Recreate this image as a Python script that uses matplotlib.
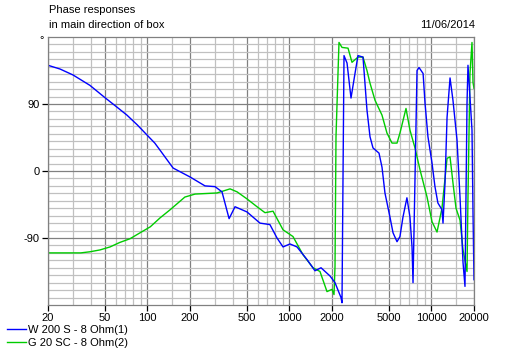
import numpy as np
import matplotlib
matplotlib.use("Agg")
import matplotlib.pyplot as plt
from matplotlib.ticker import NullFormatter

plt.rcParams['font.family'] = ['Liberation Sans', 'DejaVu Sans']

# W 200 S - 8 Ohm(1): frequency (Hz), phase (deg)
freq_w = [20, 24.3, 30, 39.5, 50, 61, 72, 85, 100, 113, 123, 152, 200, 255, 300, 336,
          377, 415, 504, 622, 731, 820, 904, 1012, 1134, 1334, 1518, 1674, 1936, 2100,
          2314, 2352, 2365, 2390, 2430, 2552, 2722, 2904, 3048, 3306, 3526, 3704, 3888,
          4286, 4500, 4720, 5120, 5380, 5740, 6020, 6320, 6740, 7080, 7320, 7440, 7680,
          7940, 8200, 8760, 9040, 9480, 10120, 10620, 11140, 11900, 12100, 12500, 12920,
          13560, 14220, 15180, 15940, 16740, 17280, 17860, 18140, 18740, 19360, 19680, 20000]
phase_w = [142, 137, 129, 115, 99, 86, 75, 62, 48, 37.5, 28, 4, -8, -20, -21, -28,
           -64, -48, -55, -70, -72, -90, -102, -98, -102, -119, -134, -130, -141, -150,
           -170, -177, -120, -12, 155, 145, 98, 131, 155, 153, 82, 46, 31,
           24, 5, -29.5, -62, -83, -95, -88, -62, -36, -62, -102, -150, -12,
           135, 139, 131, 91, 46, 11, -21, -43, -52, -70, -16, 72,
           125, 95, 42, -35, -123, -155, 91, 142, 99, 55, -56, -146]

# G 20 SC - 8 Ohm(2)
freq_g = [20, 34, 39.5, 46.5, 54.7, 64, 75.6, 89, 105, 123, 145, 184, 217, 310, 383,
          429, 504, 593, 675, 769, 904, 1062, 1250, 1470, 1646, 1844, 2000, 2066, 2100,
          2134, 2204, 2240, 2352, 2594, 2766, 3048, 3306, 3526, 3704, 4018, 4500, 4876,
          5292, 5740, 6020, 6640, 7080, 7680, 8340, 9340, 10120, 10980, 11900, 12920,
          13560, 14220, 14940, 15940, 16740, 17860, 18140, 18740, 19360, 19680, 20000]
phase_g = [-110, -110, -108.5, -106, -102, -96, -91, -83, -75, -63, -52, -35, -31, -29.5, -24,
           -28, -37.5, -48, -56, -54, -79, -88, -112.5, -130, -135, -162, -159, -166, -128.5,
           46, 131, 172.7, 166, 165, 146, 153, 153, 135, 118, 95, 75, 51,
           37.5, 37.5, 51, 84, 55, 31, 1.3, -35, -68, -82, -50, 17,
           19, -16, -50, -66, -106, -135, -35, 131, 172.7, 119, 111]

x_major = [20, 50, 100, 200, 500, 1000, 2000, 5000, 10000, 20000]
x_minor = [30, 40, 60, 70, 80, 90, 150, 300, 400, 600, 700, 800, 900, 1500,
           3000, 4000, 6000, 7000, 8000, 9000, 15000]
y_major = [-90, 0, 90]

W, H = 517, 359
fig = plt.figure(figsize=(W / 100, H / 100), dpi=100)
ax = fig.add_axes([48 / W, 1 - 305 / H, 426 / W, 268 / H])

ax.set_xscale('log')
ax.set_xlim(20, 20000)
ax.set_ylim(-180, 180)

ax.set_xticks(x_major)
ax.set_xticklabels([str(v) for v in x_major])
ax.set_xticks(x_minor, minor=True)
ax.xaxis.set_minor_formatter(NullFormatter())
ax.set_yticks(y_major)
ax.set_yticklabels([str(v) for v in y_major])
ax.set_yticks([v for v in range(-170, 180, 10) if v not in y_major], minor=True)

ax.grid(True, which='major', color='#808080', lw=0.9)
ax.grid(True, which='minor', color='#c0c0c0', lw=0.9)
ax.set_axisbelow(True)
ax.tick_params(which='major', length=4, width=0.9, color='black', labelsize=8, pad=2)
ax.tick_params(which='minor', length=0)
for s in ax.spines.values():
    s.set_color('#808080')
    s.set_linewidth(0.9)

ax.plot(freq_g, phase_g, color='#00cc00', lw=1.0, label='G 20 SC - 8 Ohm(2)')
ax.plot(freq_w, phase_w, color='#0000ff', lw=1.0, label='W 200 S - 8 Ohm(1)')

fig.text(49 / W, 1 - 10 / H, 'Phase responses', fontsize=8, va='center', ha='left')
fig.text(49 / W, 1 - 25 / H, 'in main direction of box', fontsize=8, va='center', ha='left')
fig.text(475 / W, 1 - 25 / H, '11/06/2014', fontsize=8, va='center', ha='right')
fig.text(42 / W, 1 - 40 / H, '°', fontsize=8, va='center', ha='center')

h, l = ax.get_legend_handles_labels()
fig.legend(h[::-1], l[::-1], loc='upper left', bbox_to_anchor=(7 / W, 1 - 325 / H),
           frameon=False, fontsize=8, handlelength=1.7, handletextpad=0.2,
           labelspacing=0.25, borderpad=0, borderaxespad=0)

fig.savefig('out.png', dpi=100)
